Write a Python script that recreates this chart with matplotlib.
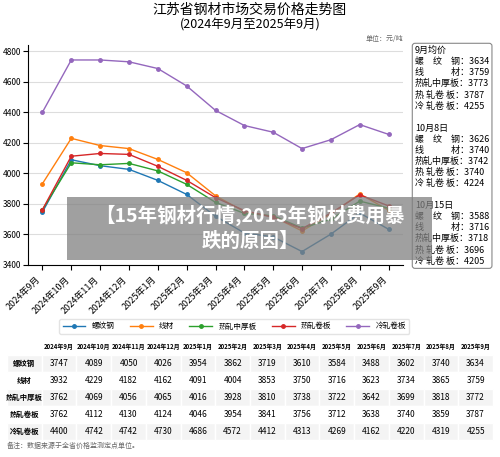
import matplotlib
matplotlib.use("Agg")
import matplotlib.pyplot as plt
from matplotlib.patches import Rectangle

plt.rcParams['font.family'] = ['Noto Sans CJK SC', 'DejaVu Sans']

months = ["2024年9月","2024年10月","2024年11月","2024年12月","2025年1月","2025年2月","2025年3月",
          "2025年4月","2025年5月","2025年6月","2025年7月","2025年8月","2025年9月"]
names = ["螺纹钢","线材","热轧中厚板","热轧卷板","冷轧卷板"]
luowen = [3747,4089,4050,4026,3954,3862,3719,3610,3584,3488,3602,3740,3634]
xiancai = [3932,4229,4182,4162,4091,4004,3853,3750,3716,3623,3734,3865,3759]
zhonghou = [3762,4069,4056,4065,4016,3928,3810,3738,3722,3642,3699,3818,3772]
juanban = [3762,4112,4130,4124,4046,3954,3841,3756,3712,3638,3740,3859,3787]
lengzha = [4400,4742,4742,4730,4686,4572,4412,4313,4269,4162,4220,4319,4255]
series = [luowen, xiancai, zhonghou, juanban, lengzha]
colors = ["#1f77b4","#ff7f0e","#2ca02c","#d62728","#9467bd"]

side_text = ("9月均价\n螺　纹　钢：3634\n线　　　材：3759\n热轧中厚板：3773\n热 轧卷 板：3787\n冷 轧卷 板：4255\n\n"
             "10月8日\n螺　纹　钢：3626\n线　　　材：3740\n热轧中厚板：3742\n热 轧卷 板：3740\n冷 轧卷 板：4224\n\n"
             "10月15日\n螺　纹　钢：3588\n线　　　材：3716\n热轧中厚板：3718\n热 轧卷 板：3696\n冷 轧卷 板：4205")

fig = plt.figure(figsize=(5.0, 4.57), dpi=100)
W, H = 500, 457
ax = fig.add_axes([28/W, 1-265/H, (403-28)/W, (265-45)/H])
x = list(range(len(months)))
for s, c, n in zip(series, colors, names):
    ax.plot(x, s, color=c, lw=1, marker='o', ms=2.5, label=n)
ax.set_ylim(3400, 4840)
ax.set_yticks(range(3400, 4801, 200))
ax.set_xlim(-0.5, 12.5)
ax.set_xticks(x)
ax.set_xticklabels(months, rotation=45, ha='right', fontsize=6.5)
ax.tick_params(axis='y', labelsize=6, pad=1.5)
ax.grid(axis='y', color='#dddddd', lw=0.8)
for sp in ['top', 'right']:
    ax.spines[sp].set_visible(False)
ax.text(1.0, 1.02, "单位：元/吨", transform=ax.transAxes, ha='right', fontsize=5, color='#666666')

fig.text(0.5, 1-10/H, "江苏省钢材市场交易价格走势图", ha='center', va='center', fontsize=10)
fig.text(0.5, 1-25/H, "(2024年9月至2025年9月)", ha='center', va='center', fontsize=9)

fig.text(415/W, 1-46/H, side_text, ha='left', va='top', fontsize=6.5, linespacing=1.28,
         bbox=dict(boxstyle='round,pad=0.3', fc='white', ec='#888888', lw=0.8))

ax.legend(loc='upper center', bbox_to_anchor=(0.55, -0.23), ncol=5, fontsize=5.5,
          frameon=True, edgecolor='#dddddd', handlelength=3)

tax = fig.add_axes([7/W, 1-440/H, (493-7)/W, (440-338)/H])
tax.axis('off')
cell = [[n] + [str(v) for v in s] for n, s in zip(names, series)]
tbl = tax.table(cellText=cell, colLabels=[""] + months, loc='center', cellLoc='center',
                bbox=[0, 0, 1, 1], colWidths=[1.0] + [1.0] * 13)
tbl.auto_set_font_size(False)
for (r, c), cl in tbl.get_celld().items():
    cl.set_edgecolor('white')
    if r == 0:
        cl.set_text_props(fontsize=4.3, fontweight='bold')
        cl.set_facecolor('white')
    else:
        cl.set_text_props(fontsize=6)
        cl.set_facecolor('#f4f4f4' if r % 2 == 1 else 'white')
    if c == 0 and r > 0:
        cl.set_text_props(fontsize=5.3, fontweight='bold')
fig.text(7/W, 1-446/H, "备注：数据来源于全省价格监测定点单位。", fontsize=5, color='#666666', va='center')

fig.patches.append(Rectangle((67/W, 1-260/H), (432-67)/W, (260-197)/H, transform=fig.transFigure,
                             fc='#808080', alpha=0.75, ec='none', zorder=10))
fig.text(250/W, 1-215/H, "【15年钢材行情,2015年钢材费用暴", ha='center', va='center', fontsize=14,
         color='white', fontweight='bold', zorder=11)
fig.text(250/W, 1-241/H, "跌的原因】", ha='center', va='center', fontsize=14,
         color='white', fontweight='bold', zorder=11)

fig.savefig("out.png", dpi=100)
